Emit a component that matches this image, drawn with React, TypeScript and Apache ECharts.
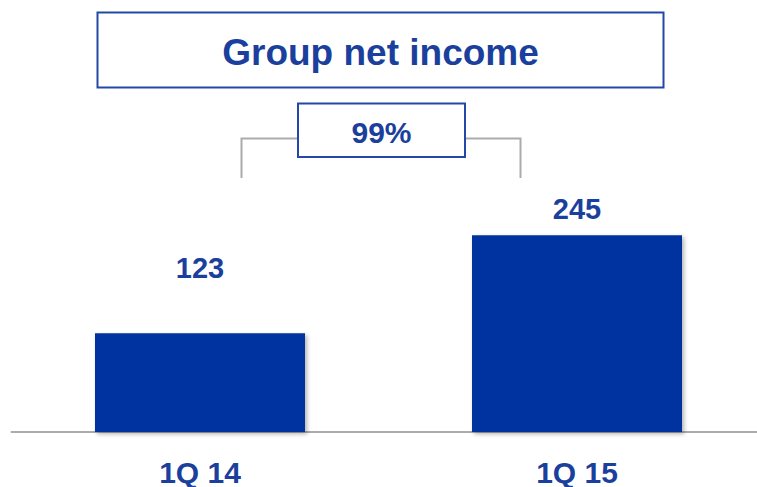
import React, { useEffect, useRef } from "react";
import * as echarts from "echarts";

const categories = ["1Q 14", "1Q 15"];
const values = [123, 245];
const labelDistances = [51, 12];
const titleText = "Group net income";
const growthPct = Math.round((values[1] / values[0] - 1) * 100);

const FONT = "'Liberation Sans', Arial, sans-serif";
const TEXT_COLOR = "#1b3f9c";
const BAR_COLOR = "#0033a0";
const BORDER_COLOR = "#2249a6";
const GRAY = "#ababab";

export default function App() {
  const ref = useRef<HTMLDivElement>(null);
  useEffect(() => {
    if (!ref.current) return;
    const chart = echarts.init(ref.current, undefined, { renderer: "svg" });
    chart.setOption({
      animation: false,
      backgroundColor: "#ffffff",
      grid: { left: 11.5, width: 754, top: 191, height: 242, containLabel: false },
      xAxis: {
        type: "category",
        data: categories,
        axisLine: { show: true, lineStyle: { color: GRAY, width: 2 } },
        axisTick: { show: false },
        axisLabel: {
          margin: 25,
          fontSize: 30,
          fontWeight: "bold",
          fontFamily: FONT,
          color: TEXT_COLOR,
        },
      },
      yAxis: { type: "value", min: 0, max: 300, show: false, splitLine: { show: false } },
      series: [
        {
          type: "bar",
          barWidth: 210,
          z: 1,
          data: values.map((v, i) => ({
            value: v,
            label: { distance: labelDistances[i] },
          })),
          itemStyle: {
            color: BAR_COLOR,
            shadowColor: "rgba(0,0,0,0.3)",
            shadowBlur: 4,
            shadowOffsetX: 2,
            shadowOffsetY: 2,
          },
          label: {
            show: true,
            position: "top",
            fontSize: 29,
            fontWeight: "bold",
            fontFamily: FONT,
            color: TEXT_COLOR,
          },
        },
      ],
      graphic: [
        {
          type: "rect",
          shape: { x: 97.5, y: 12.5, width: 566, height: 75 },
          style: { fill: "#ffffff", stroke: BORDER_COLOR, lineWidth: 2 },
        },
        {
          type: "text",
          x: 380.5,
          y: 52,
          style: {
            text: titleText,
            fill: TEXT_COLOR,
            font: `bold 37px ${FONT}`,
            align: "center",
            verticalAlign: "middle",
          },
        },
        {
          type: "polyline",
          shape: { points: [[241.5, 178], [241.5, 138.5], [298, 138.5]] },
          style: { stroke: GRAY, lineWidth: 2, fill: "none" },
        },
        {
          type: "polyline",
          shape: { points: [[465, 138.5], [520.5, 138.5], [520.5, 178]] },
          style: { stroke: GRAY, lineWidth: 2, fill: "none" },
        },
        {
          type: "rect",
          shape: { x: 298, y: 103.5, width: 167, height: 53.5 },
          style: { fill: "#ffffff", stroke: BORDER_COLOR, lineWidth: 2 },
        },
        {
          type: "text",
          x: 381.5,
          y: 132.3,
          style: {
            text: `${growthPct}%`,
            fill: TEXT_COLOR,
            font: `bold 30px ${FONT}`,
            align: "center",
            verticalAlign: "middle",
          },
        },
      ],
    });
    return () => chart.dispose();
  }, []);
  return (
    <div
      ref={ref}
      style={{ position: "fixed", left: 0, top: 0, width: 770, height: 487 }}
    />
  );
}
